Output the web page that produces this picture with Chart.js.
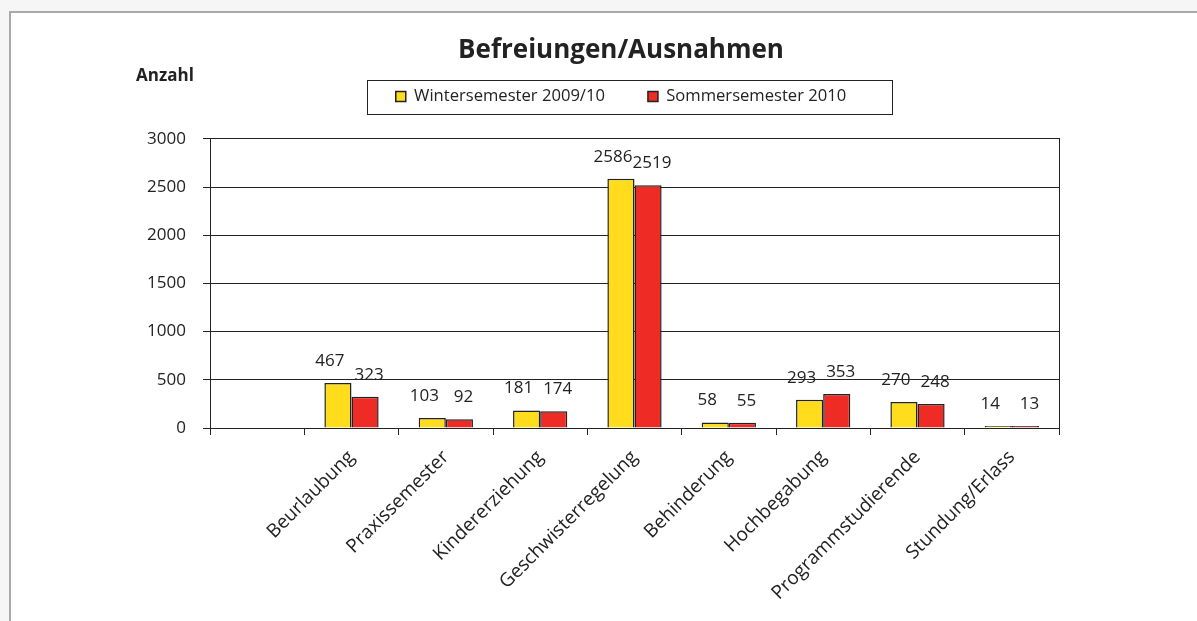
<!DOCTYPE html>
<html>
<head>
<meta charset="utf-8">
<script src="https://cdn.jsdelivr.net/npm/chart.js@4.4.1/dist/chart.umd.min.js"></script>
<style>
  body { margin: 0; background: #f6f6f6; width: 1197px; height: 621px; overflow: hidden; position: relative; }
  #frame { position: absolute; left: 9px; top: 11px; width: 1300px; height: 800px; border: 2px solid #a9a9a9; background: #fff; }
  #chart { position: absolute; left: 0; top: 0; }
</style>
</head>
<body>
<div id="frame"></div>
<canvas id="chart" width="1242" height="621"></canvas>
<script>
// Categories (first slot is empty in the original chart)
const categories = ['', 'Beurlaubung', 'Praxissemester', 'Kindererziehung', 'Geschwisterregelung',
    'Behinderung', 'Hochbegabung', 'Programmstudierende', 'Stundung/Erlass'];
const winterValues = [null, 467, 103, 181, 2586, 58, 293, 270, 14];
const sommerValues = [null, 323, 92, 174, 2519, 55, 353, 248, 13];
const seriesNames = ['Wintersemester 2009/10', 'Sommersemester 2010'];
const yTicks = [0, 500, 1000, 1500, 2000, 2500, 3000];

const fontFamily = '"Open Sans", "DejaVu Sans", sans-serif';
const textColor = '#222';
const labelShift = [-8, 4]; // value labels sit slightly apart, like in the original

// Value labels above each bar
const valueLabels = {
    id: 'valueLabels',
    afterDatasetsDraw(chart) {
        const ctx = chart.ctx;
        ctx.save();
        ctx.font = '17px ' + fontFamily;
        ctx.fillStyle = textColor;
        ctx.textAlign = 'center';
        ctx.textBaseline = 'middle';
        chart.data.datasets.forEach((ds, i) => {
            const meta = chart.getDatasetMeta(i);
            meta.data.forEach((bar, j) => {
                const v = ds.data[j];
                if (v == null) return;
                ctx.fillText(String(v), bar.x + labelShift[i], bar.y - 22);
            });
        });
        ctx.restore();
    }
};

// Legend frame and the "Anzahl" caption
const decorations = {
    id: 'decorations',
    afterDraw(chart) {
        const ctx = chart.ctx;
        const area = chart.chartArea;
        ctx.save();
        ctx.strokeStyle = textColor;
        ctx.lineWidth = 1;
        const boxes = chart.legend.legendHitBoxes;
        if (boxes && boxes.length) {
            const first = boxes[0];
            const last = boxes[boxes.length - 1];
            const left = Math.round(first.left - 29) + 0.5;
            const right = Math.round(last.left + last.width + 46) + 0.5;
            const cy = first.top + first.height / 2;
            const top = Math.round(cy - 17) + 0.5;
            const bottom = Math.round(cy + 17) + 0.5;
            ctx.strokeRect(left, top, right - left, bottom - top);
        }

        ctx.font = 'bold 17px ' + fontFamily;
        ctx.fillStyle = textColor;
        ctx.textAlign = 'left';
        ctx.textBaseline = 'alphabetic';
        ctx.fillText('Anzahl', area.left - 74, area.top - 58);
        ctx.restore();
    }
};

new Chart(document.getElementById('chart'), {
    type: 'bar',
    data: {
        labels: categories,
        datasets: [{
            label: seriesNames[0],
            data: winterValues,
            backgroundColor: '#ffdd1c',
            borderColor: '#222',
            borderWidth: 1.5,
            minBarLength: 2,
            categoryPercentage: 0.575,
            barPercentage: 1.0
        }, {
            label: seriesNames[1],
            data: sommerValues,
            backgroundColor: '#ee2b24',
            borderColor: '#222',
            borderWidth: 1.5,
            minBarLength: 2,
            categoryPercentage: 0.575,
            barPercentage: 1.0
        }]
    },
    options: {
        responsive: false,
        animation: false,
        devicePixelRatio: 1,
        layout: { padding: { left: 0, right: 0, top: 0, bottom: 0 } },
        plugins: {
            title: {
                display: true,
                text: 'Befreiungen/Ausnahmen',
                color: textColor,
                font: { family: fontFamily, size: 26, weight: 'bold' },
                padding: { top: 35, bottom: -21 }
            },
            legend: {
                display: true,
                position: 'top',
                labels: {
                    color: textColor,
                    font: { family: fontFamily, size: 16.6 },
                    boxWidth: 10,
                    boxHeight: 10,
                    padding: 43
                }
            },
            tooltip: { enabled: false }
        },
        scales: {
            x: {
                position: 'bottom',
                grid: { display: true, drawOnChartArea: false, drawTicks: true, tickLength: 7, color: textColor },
                border: { display: true, color: textColor, width: 1 },
                ticks: {
                    color: textColor,
                    font: { family: fontFamily, size: 19 },
                    minRotation: 45,
                    maxRotation: 45,
                    autoSkip: false,
                    padding: 11
                },
                afterFit(scale) { scale.height = 193; }
            },
            xTop: {
                type: 'category',
                position: 'top',
                display: true,
                grid: { display: false },
                border: { display: false },
                ticks: { display: false },
                afterFit(scale) { scale.height = 24; }
            },
            y: {
                min: 0,
                max: 3000,
                afterBuildTicks(scale) { scale.ticks = yTicks.map(v => ({ value: v })); },
                grid: { color: textColor, lineWidth: 1, tickLength: 7 },
                border: { display: true, color: textColor, width: 1 },
                ticks: {
                    color: textColor,
                    font: { family: fontFamily, size: 17 },
                    padding: 17,
                    callback: value => String(value)
                },
                afterFit(scale) { scale.width = 210; }
            },
            yRight: {
                position: 'right',
                display: true,
                grid: { display: false },
                border: { display: true, color: textColor, width: 1 },
                ticks: { display: false },
                afterFit(scale) { scale.width = 183; }
            }
        }
    },
    plugins: [valueLabels, decorations]
});
</script>
</body>
</html>
